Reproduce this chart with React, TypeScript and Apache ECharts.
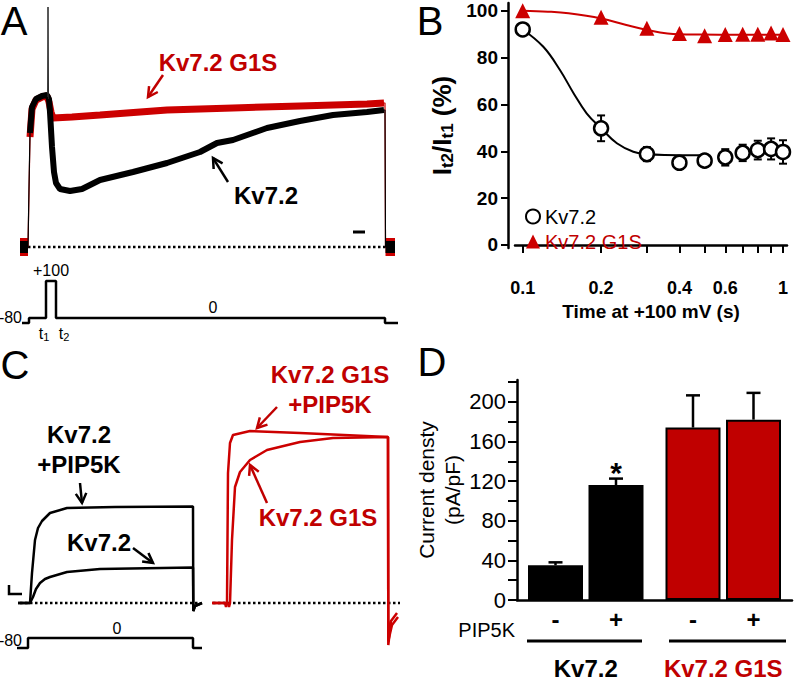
import React, { useEffect, useRef } from 'react';
import * as echarts from 'echarts';

const FONT = "'Liberation Sans', Arial, Helvetica, sans-serif";
const BLACK = '#000000';
const RED = '#c00000';
const RED_TRACE = '#cc0000';

// ---------- Panel A: currents (time index, current in arbitrary units) ----------
const traceA_Kv72: number[][] = [
  [-2, 0], [6, 0], [7, 60], [8, 114], [10, 140], [14, 148], [20, 151], [25, 152],
  [27, 148], [28, 135], [30, 100], [32, 75], [34, 64], [38, 58], [48, 56], [60, 58],
  [78, 67], [111, 75], [145, 84], [178, 95], [195, 104], [211, 107], [245, 119],
  [278, 126], [311, 132], [345, 135], [362, 137], [363, 137], [363.5, 0], [373, 0],
];
const traceA_G1S: number[][] = [
  [-2, 0], [6, 0], [7, 55], [8, 110], [10, 138], [14, 147], [20, 150], [25, 151],
  [27, 145], [29, 135], [31, 129], [50, 130], [78, 132], [145, 137], [211, 139],
  [278, 141], [345, 143], [362, 144], [363, 144], [363.5, 0], [373, 0],
];
const traceA_spike: number[][] = [[25.6, 150], [26, 240], [26.5, 148]];
const protocolA_t = [0, 7, 7, 24, 24, 34, 34, 363, 363, 376];
const protocolA_mV = [-80, -80, 0, 0, 100, 100, 0, 0, -80, -80];

// ---------- Panel B: I(t2)/I(t1) (%) vs time at +100 mV (s) ----------
const bTime = [0.1, 0.2, 0.3, 0.4, 0.5, 0.6, 0.7, 0.8, 0.9, 1.0];
const bKv72 = [92, 49.8, 38.8, 35.1, 36, 37.4, 39.3, 40.5, 41, 39.7];
const bKv72Err = [0, 5.5, 3, 2.5, 2.5, 3.5, 3.5, 4, 4.5, 5];
const bG1S = [100, 97.2, 92.5, 90.3, 89.3, 89.9, 90, 90, 90.5, 89.9];
const bFitKv72: number[][] = [
  [0.1, 92], [0.12, 84.6], [0.139, 74.7], [0.157, 64.7], [0.176, 56.2], [0.2, 49.8],
  [0.23, 43.4], [0.266, 39.8], [0.3, 38.8], [0.35, 38.4], [0.48, 38.3],
];
const bFitG1S: number[][] = [
  [0.1, 100], [0.125, 99.6], [0.15, 98.9], [0.2, 96.7], [0.25, 93.9], [0.3, 91.8],
  [0.36, 90.3], [0.48, 89.8], [0.7, 89.7], [1, 89.7],
];
const bXTicks = [0.1, 0.2, 0.3, 0.4, 0.5, 0.6, 0.7, 0.8, 0.9, 1];
const bXLabels = [0.1, 0.2, 0.4, 0.6, 1];
const bYTicks = [0, 20, 40, 60, 80, 100];

// ---------- Panel C: currents ----------
const traceC_Kv72PIP: number[][] = [
  [3, 0], [15, 0], [17, 30], [20, 63], [23, 75], [27, 82], [35, 90], [52, 95],
  [100, 96], [178, 96.5], [178.3, -8], [180, -3], [187, 0],
];
const traceC_Kv72: number[][] = [
  [3, 0], [15, 0], [18, 6], [21, 14], [25, 20], [30, 24], [35, 26], [52, 31],
  [85, 34], [178, 35.5], [178.3, -8], [180, -3], [187, 0],
];
const traceC_G1SPIP: number[][] = [
  [197, 0], [210, 0], [211, -4], [212, 0], [213, 130], [215, 160], [218, 168],
  [235, 172], [285, 170], [373, 166], [373.3, -42], [376, -18], [382, -10],
];
const traceC_G1S: number[][] = [
  [197, 0], [213, 0], [214, -4], [215, 0], [217, 63], [220, 116], [225, 131],
  [235, 143], [252, 153], [285, 161], [318, 165], [373, 166], [373.3, -38],
  [377, -22], [383, -14],
];
const protocolC_t = [2, 13, 13, 178, 178, 187];
const protocolC_mV = [-80, -80, 0, 0, -80, -80];

// ---------- Panel D: current density (pA/pF) ----------
const dGroups = ['Kv7.2', 'Kv7.2 G1S'];
const dNoPIP = [35, 174];
const dNoPIPErr = [3, 32.5];
const dPIP = [116, 182];
const dPIPErr = [6.5, 27];
const dSig = ['*', ''];
const dYTicks = [0, 20, 40, 60, 80, 100, 120, 140, 160, 180, 200, 220];
const dYLabels = [0, 40, 80, 120, 160, 200];

const inRange = (d: number[][], a: number, b: number) => d.filter((p) => p[0] >= a && p[0] <= b);
const schemA = (v: number) => (v < 0 ? v / 16 : v * 0.37);
const schemC = (v: number) => (v < 0 ? v / 8 : v);

function arrow(x1: number, y1: number, x2: number, y2: number, color: string) {
  const ang = Math.atan2(y2 - y1, x2 - x1);
  const L = 11;
  const a = 0.5;
  const p1 = [x2 - L * Math.cos(ang - a), y2 - L * Math.sin(ang - a)];
  const p2 = [x2 - L * Math.cos(ang + a), y2 - L * Math.sin(ang + a)];
  return [
    { type: 'line', silent: true, z: 100, shape: { x1, y1, x2, y2 }, style: { stroke: color, lineWidth: 2.5 } },
    { type: 'polyline', silent: true, z: 100, shape: { points: [p1, [x2, y2], p2] }, style: { stroke: color, lineWidth: 2.5, fill: 'none' } },
  ];
}

function txt(text: string, x: number, y: number, o: any = {}) {
  return {
    type: 'text', silent: true, z: 100, x, y,
    style: {
      text,
      fill: o.color || BLACK,
      fontSize: o.size || 24,
      fontWeight: o.weight || 'bold',
      fontFamily: FONT,
      align: o.align || 'center',
      verticalAlign: 'middle',
      rich: o.rich,
    },
  };
}

const hid = (gridIndex: number, min: number, max: number) => ({ gridIndex, type: 'value', min, max, show: false });

function lineS(data: number[][], axis: number, color: string, width: number, z: number, extra: any = {}) {
  return {
    type: 'line', xAxisIndex: axis, yAxisIndex: axis, data, symbol: 'none', showSymbol: false,
    lineStyle: { color, width, ...(extra.lineStyle || {}) }, z, silent: true, ...extra.rest,
  };
}

function dErr(vals: number[], errs: number[], sign: number, sig: string[] | null) {
  const off = sign * (55 + 5.5) / 2;
  return {
    type: 'custom', xAxisIndex: 5, yAxisIndex: 5, z: 5, silent: true,
    data: vals.map((v, i) => [i, v, errs[i]]),
    encode: { x: 0, y: 1 },
    renderItem: (params: any, api: any) => {
      const c = api.value(0), v = api.value(1), e = api.value(2);
      const base = api.coord([c, v]);
      const top = api.coord([c, v + e]);
      const x = base[0] + off;
      const children: any[] = [
        { type: 'line', shape: { x1: x, y1: base[1], x2: x, y2: top[1] }, style: { stroke: BLACK, lineWidth: 2.5 } },
        { type: 'line', shape: { x1: x - 7, y1: top[1], x2: x + 7, y2: top[1] }, style: { stroke: BLACK, lineWidth: 2.5 } },
      ];
      if (sig && sig[params.dataIndex]) {
        children.push({
          type: 'text', x, y: top[1] - 6,
          style: { text: sig[params.dataIndex], fontSize: 30, fontWeight: 'bold', fontFamily: FONT, fill: BLACK, align: 'center', verticalAlign: 'middle' },
        });
      }
      return { type: 'group', children };
    },
  };
}

export default function App() {
  const ref = useRef<HTMLDivElement>(null);
  useEffect(() => {
    document.body.style.margin = '0';
    const chart = echarts.init(ref.current as HTMLDivElement, null, { renderer: 'svg' });

    const grids = [
      { left: 20, top: 7, width: 378, height: 260 },
      { left: 20, top: 273, width: 378, height: 55 },
      { left: 515, top: 3, width: 272, height: 245 },
      { left: 15, top: 423, width: 385, height: 230 },
      { left: 15, top: 628, width: 385, height: 25 },
      { left: 517, top: 380, width: 275, height: 225 },
    ];

    const xAxis: any[] = [
      hid(0, -2, 376),
      hid(1, -2, 376),
      {
        gridIndex: 2, type: 'log', logBase: 10, min: 0.0934, max: 1.036, offset: 19,
        axisLine: { show: true, lineStyle: { color: BLACK, width: 2.5 } },
        axisTick: { show: true, customValues: bXTicks, length: 8, lineStyle: { color: BLACK, width: 2 } },
        axisLabel: {
          customValues: bXLabels, margin: 12, color: BLACK, fontSize: 18, fontWeight: 'bold', fontFamily: FONT,
          formatter: (v: number) => String(Math.round(v * 10) / 10),
        },
        splitLine: { show: false }, minorTick: { show: false },
        name: 'Time at +100 mV (s)', nameLocation: 'middle', nameGap: 35,
        nameTextStyle: { color: BLACK, fontSize: 19, fontWeight: 'bold', fontFamily: FONT },
      },
      hid(3, 0, 385),
      hid(4, 0, 385),
      {
        gridIndex: 5, type: 'category', data: dGroups,
        axisLine: { show: true, lineStyle: { color: BLACK, width: 2.5 } },
        axisTick: { show: false },
        axisLabel: {
          margin: 56, interval: 0,
          formatter: (v: string) => (v === 'Kv7.2' ? '{k|' + v + '}' : '{r|' + v + '}'),
          rich: {
            k: { color: BLACK, fontSize: 24, fontWeight: 'bold', fontFamily: FONT },
            r: { color: RED, fontSize: 24, fontWeight: 'bold', fontFamily: FONT },
          },
        },
      },
    ];

    const yAxis: any[] = [
      hid(0, -20, 240),
      hid(1, -10, 45),
      {
        gridIndex: 2, type: 'value', min: -1.3, max: 103.3, offset: 7,
        axisLine: { show: true, lineStyle: { color: BLACK, width: 2.5 } },
        axisTick: { show: true, customValues: bYTicks, length: 7, lineStyle: { color: BLACK, width: 2 } },
        axisLabel: { customValues: bYTicks, margin: 10, color: BLACK, fontSize: 19, fontWeight: 'bold', fontFamily: FONT },
        splitLine: { show: false },
        name: '{m|I}{s|t2}{m|/I}{s|t1}{m| (%)}', nameLocation: 'middle', nameRotate: 90, nameGap: 52,
        nameTextStyle: {
          rich: {
            m: { fontSize: 26, fontWeight: 'bold', fontFamily: FONT, color: BLACK, lineHeight: 28 },
            s: { fontSize: 17, fontWeight: 'bold', fontFamily: FONT, color: BLACK, lineHeight: 13, verticalAlign: 'bottom' },
          },
        },
      },
      hid(3, -50, 180),
      hid(4, -15, 10),
      {
        gridIndex: 5, type: 'value', min: 0, max: 222,
        axisLine: { show: true, lineStyle: { color: BLACK, width: 2.5 } },
        axisTick: { show: true, customValues: dYTicks, length: 9, lineStyle: { color: BLACK, width: 2 } },
        axisLabel: { customValues: dYLabels, margin: 11, color: BLACK, fontSize: 22, fontFamily: FONT },
        splitLine: { show: false },
        name: 'Current densty\n(pA/pF)', nameLocation: 'middle', nameRotate: 90, nameGap: 42,
        nameTextStyle: { color: BLACK, fontSize: 21, fontFamily: FONT, lineHeight: 26 },
      },
    ];

    const series: any[] = [
      // Panel A
      lineS([[6, 0], [370, 0]], 0, BLACK, 2.5, 1, { lineStyle: { type: 'dotted' } }),
      lineS(traceA_G1S, 0, RED_TRACE, 1.2, 2),
      lineS(inRange(traceA_G1S, 8, 362), 0, RED_TRACE, 7, 2),
      lineS(inRange(traceA_G1S, -2, 6), 0, RED_TRACE, 18, 2),
      lineS(inRange(traceA_G1S, 363.5, 373), 0, RED_TRACE, 18, 2),
      lineS(traceA_Kv72, 0, BLACK, 1.2, 3),
      lineS(inRange(traceA_Kv72, 8, 362), 0, BLACK, 6, 3),
      lineS(inRange(traceA_Kv72, -2, 6), 0, BLACK, 12, 3),
      lineS(inRange(traceA_Kv72, 363.5, 373), 0, BLACK, 12, 3),
      lineS(traceA_spike, 0, '#222', 1, 3),
      lineS(protocolA_t.map((t, i) => [t, schemA(protocolA_mV[i])]), 1, BLACK, 2.5, 3),

      // Panel B
      {
        type: 'custom', name: 'Kv7.2 err', xAxisIndex: 2, yAxisIndex: 2, z: 2, silent: true,
        data: bTime.map((t, i) => [t, bKv72[i], bKv72Err[i]]),
        encode: { x: 0, y: 1 },
        renderItem: (params: any, api: any) => {
          const x = api.value(0), y = api.value(1), e = api.value(2);
          const top = api.coord([x, y + e]);
          const bot = api.coord([x, y - e]);
          const w = 4;
          const st = { stroke: BLACK, lineWidth: 2 };
          return {
            type: 'group',
            children: [
              { type: 'line', shape: { x1: top[0], y1: top[1], x2: bot[0], y2: bot[1] }, style: st },
              { type: 'line', shape: { x1: top[0] - w, y1: top[1], x2: top[0] + w, y2: top[1] }, style: st },
              { type: 'line', shape: { x1: bot[0] - w, y1: bot[1], x2: bot[0] + w, y2: bot[1] }, style: st },
            ],
          };
        },
      },
      {
        type: 'line', name: 'Kv7.2 fit', xAxisIndex: 2, yAxisIndex: 2, data: bFitKv72, smooth: 0.4,
        symbol: 'none', lineStyle: { color: BLACK, width: 2 }, z: 2, silent: true,
      },
      {
        type: 'line', name: 'Kv7.2 G1S fit', xAxisIndex: 2, yAxisIndex: 2, data: bFitG1S, smooth: 0.4,
        symbol: 'none', lineStyle: { color: RED_TRACE, width: 2 }, z: 2, silent: true,
      },
      {
        type: 'scatter', name: 'Kv7.2', xAxisIndex: 2, yAxisIndex: 2, z: 4, silent: true,
        data: bTime.map((t, i) => [t, bKv72[i]]), symbol: 'circle', symbolSize: 14,
        itemStyle: { color: '#ffffff', borderColor: BLACK, borderWidth: 2.5, opacity: 1 },
      },
      {
        type: 'scatter', name: 'Kv7.2 G1S', xAxisIndex: 2, yAxisIndex: 2, z: 4, silent: true,
        data: bTime.map((t, i) => [t, bG1S[i]]), symbol: 'triangle', symbolSize: 15,
        itemStyle: { color: RED_TRACE, opacity: 1 },
      },

      // Panel C
      lineS([[5, 0], [185, 0]], 3, BLACK, 2.5, 1, { lineStyle: { type: 'dotted' } }),
      lineS([[198, 0], [385, 0]], 3, BLACK, 2.5, 1, { lineStyle: { type: 'dotted' } }),
      lineS(traceC_Kv72PIP, 3, BLACK, 2.5, 3),
      lineS(traceC_Kv72, 3, BLACK, 2.5, 3),
      lineS(traceC_G1SPIP, 3, RED_TRACE, 2.5, 3),
      lineS(traceC_G1S, 3, RED_TRACE, 2.5, 3),
      lineS(protocolC_t.map((t, i) => [t, schemC(protocolC_mV[i])]), 4, BLACK, 2.5, 3),

      // Panel D
      {
        type: 'bar', name: 'PIP5K -', xAxisIndex: 5, yAxisIndex: 5, barWidth: 55, barGap: '10%', silent: true,
        data: dNoPIP.map((v, i) => ({ value: v, itemStyle: { color: i === 0 ? BLACK : RED } })),
        itemStyle: { borderColor: BLACK, borderWidth: 2 },
        label: { show: true, position: 'insideBottom', distance: -31, formatter: '-', color: BLACK, fontSize: 24, fontWeight: 'bold', fontFamily: FONT },
      },
      {
        type: 'bar', name: 'PIP5K +', xAxisIndex: 5, yAxisIndex: 5, barWidth: 55, barGap: '10%', silent: true,
        data: dPIP.map((v, i) => ({ value: v, itemStyle: { color: i === 0 ? BLACK : RED } })),
        itemStyle: { borderColor: BLACK, borderWidth: 2 },
        label: { show: true, position: 'insideBottom', distance: -31, formatter: '+', color: BLACK, fontSize: 24, fontWeight: 'bold', fontFamily: FONT },
      },
      dErr(dNoPIP, dNoPIPErr, -1, null),
      dErr(dPIP, dPIPErr, 1, dSig),
    ];

    const graphic: any[] = [
      txt('A', 14, 21, { size: 40, weight: 'normal' }),
      txt('B', 430, 21, { size: 40, weight: 'normal' }),
      txt('C', 15, 365, { size: 40, weight: 'normal' }),
      txt('D', 432, 362, { size: 40, weight: 'normal' }),
      // Panel A labels
      txt('Kv7.2 G1S', 218, 62, { color: RED }),
      txt('Kv7.2', 266, 195),
      ...arrow(163, 75, 148, 97, RED),
      ...arrow(228, 182, 213, 158, BLACK),
      { type: 'line', silent: true, z: 100, shape: { x1: 353, y1: 232, x2: 365, y2: 232 }, style: { stroke: BLACK, lineWidth: 3 } },
      txt('+100', 51, 270, { size: 16, weight: 'normal' }),
      txt('0', 213, 307, { size: 16, weight: 'normal' }),
      txt('-80', 22, 317, { size: 16, weight: 'normal', align: 'right' }),
      txt('{m|t}{s|1}', 44, 333, { size: 16, weight: 'normal', rich: { m: { fontSize: 16, fontFamily: FONT, lineHeight: 18 }, s: { fontSize: 11, fontFamily: FONT, lineHeight: 8, verticalAlign: 'bottom' } } }),
      txt('{m|t}{s|2}', 64, 333, { size: 16, weight: 'normal', rich: { m: { fontSize: 16, fontFamily: FONT, lineHeight: 18 }, s: { fontSize: 11, fontFamily: FONT, lineHeight: 8, verticalAlign: 'bottom' } } }),
      // Panel C labels
      txt('Kv7.2', 79, 434),
      txt('+PIP5K', 79, 464),
      ...arrow(80, 483, 82, 503, BLACK),
      txt('Kv7.2', 99, 542),
      ...arrow(133, 548, 153, 563, BLACK),
      txt('Kv7.2 G1S', 330, 374, { color: RED }),
      txt('+PIP5K', 330, 404, { color: RED }),
      ...arrow(277, 407, 257, 428, RED),
      txt('Kv7.2 G1S', 318, 517, { color: RED }),
      ...arrow(267, 503, 250, 465, RED),
      { type: 'polyline', silent: true, z: 100, shape: { points: [[9, 585], [9, 594], [22, 594]] }, style: { stroke: BLACK, lineWidth: 2.5, fill: 'none' } },
      txt('-80', 22, 640, { size: 16, weight: 'normal', align: 'right' }),
      txt('0', 117, 628, { size: 16, weight: 'normal' }),
      // Panel D decorations
      txt('PIP5K', 515, 630, { size: 20, weight: 'normal', align: 'right' }),
      { type: 'line', silent: true, z: 100, shape: { x1: 527, y1: 641, x2: 642, y2: 641 }, style: { stroke: BLACK, lineWidth: 3 } },
      { type: 'line', silent: true, z: 100, shape: { x1: 669, y1: 641, x2: 786, y2: 641 }, style: { stroke: BLACK, lineWidth: 3 } },
    ];

    chart.setOption({
      animation: false,
      textStyle: { fontFamily: FONT },
      grid: grids,
      xAxis,
      yAxis,
      legend: {
        orient: 'vertical', left: 520, top: 201, itemWidth: 14, itemHeight: 14, itemGap: 4,
        selectedMode: false,
        data: [
          { name: 'Kv7.2', textStyle: { color: BLACK } },
          { name: 'Kv7.2 G1S', textStyle: { color: RED } },
        ],
        textStyle: { fontSize: 20, fontFamily: FONT, lineHeight: 21 },
      },
      series,
      graphic,
    });
    return () => chart.dispose();
  }, []);
  return <div ref={ref} style={{ width: 800, height: 680 }} />;
}
